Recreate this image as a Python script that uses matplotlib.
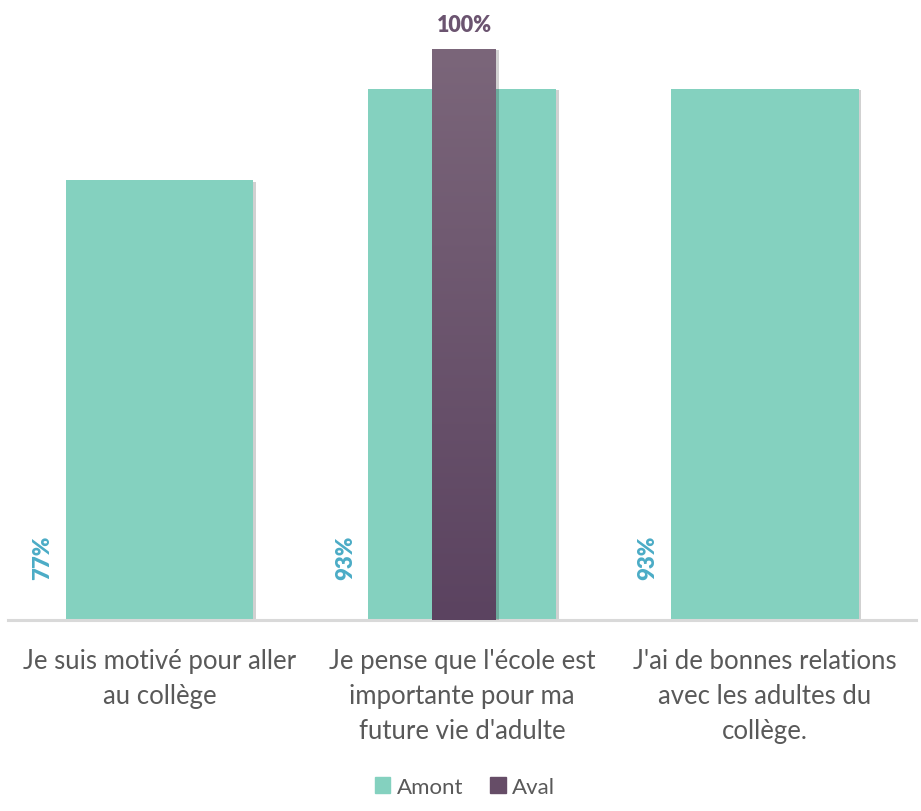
import matplotlib
matplotlib.use('Agg')
import matplotlib.pyplot as plt
import matplotlib.patheffects as pe
import numpy as np

categories = ["Je suis motivé pour aller\nau collège",
              "Je pense que l'école est\nimportante pour ma\nfuture vie d'adulte",
              "J'ai de bonnes relations\navec les adultes du\ncollège."]
amont = [0.77, 0.93, 0.93]
aval_idx = [1]
aval = [1.00]

green = '#84d1bf'
purple_top = '#7b667a'
purple_bottom = '#5b4360'
label_blue = '#4bacc6'
text_grey = '#595959'

plt.rcParams['font.family'] = ['Lato', 'DejaVu Sans']

fig = plt.figure(figsize=(9.21, 8.12), dpi=100)
ax = fig.add_axes([0.0087, 0.2352, 0.986, 0.7383])

x = np.arange(len(categories))
shadow = [pe.SimplePatchShadow(offset=(2, -1), shadow_rgbFace='#000000', alpha=0.18), pe.Normal()]

bars = ax.bar(x, amont, width=0.62, color=green, zorder=2)
for b in bars:
    b.set_path_effects(shadow)

# purple bar with vertical gradient
xa = np.array(aval_idx) + 0.007
pbars = ax.bar(xa, aval, width=0.21, color=purple_bottom, zorder=3)
grad = np.linspace(0, 1, 256).reshape(-1, 1)
cmap = matplotlib.colors.LinearSegmentedColormap.from_list('p', [purple_bottom, purple_top])
for b in pbars:
    b.set_path_effects(shadow)
    x0, w, h = b.get_x(), b.get_width(), b.get_height()
    im = ax.imshow(grad, cmap=cmap, aspect='auto', origin='lower',
                   extent=[x0, x0 + w, 0, h], zorder=3.5)
    im.set_clip_path(b)

# value labels
for xi, v in zip(x, amont):
    ax.text(xi - 0.31 - 0.075, 0.072, f"{int(round(v * 100))}%", rotation=90,
            ha='center', va='bottom', color=label_blue, fontsize=16, fontweight='heavy')
for xi, v in zip(xa, aval):
    ax.text(xi, v + 0.025, f"{int(round(v * 100))}%", ha='center', va='bottom',
            color='#6b5470', fontsize=15.5, fontweight='heavy')

ax.set_xlim(-0.5, 2.5)
ax.set_ylim(0, 1.05)
ax.set_xticks(x)
ax.set_xticklabels(categories, fontsize=18.5, color=text_grey, linespacing=1.5)
ax.tick_params(axis='x', length=0, pad=20)
ax.set_yticks([])
for s in ['top', 'right', 'left']:
    ax.spines[s].set_visible(False)
ax.spines['bottom'].set_color('#d9d9d9')
ax.spines['bottom'].set_linewidth(2.2)

from matplotlib.patches import Patch
handles = [Patch(color=green, label='Amont'), Patch(color='#664d67', label='Aval')]
fig.legend(handles=handles, loc='center', bbox_to_anchor=(0.505, 0.03), ncol=2,
           frameon=False, fontsize=16, handlelength=0.7, handleheight=0.7,
           handletextpad=0.3, columnspacing=1.2, labelcolor=text_grey)

fig.savefig('out.png', dpi=100)
